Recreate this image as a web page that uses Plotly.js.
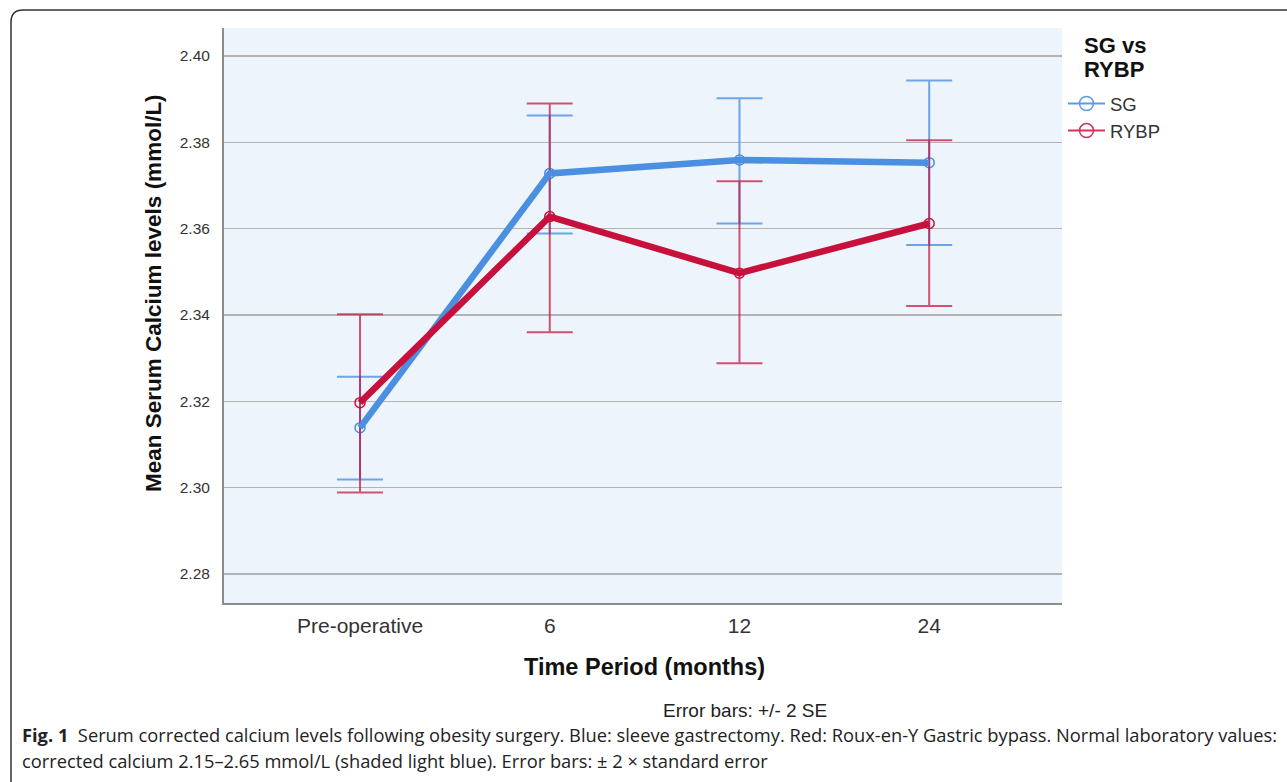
<!DOCTYPE html>
<html>
<head>
<meta charset="utf-8">
<script src="https://cdn.plot.ly/plotly-3.0.1.min.js"></script>
<style>
html,body{margin:0;padding:0;background:#fff;}
#chart{width:1287px;height:782px;}
</style>
</head>
<body>
<div id="chart"></div>
<script>
// ---- data ----
var periods = ['Pre-operative', '6', '12', '24'];
var sgMean  = [2.3139, 2.3728, 2.3759, 2.3753];
var sgUpper = [2.3257, 2.3862, 2.3902, 2.3943];
var sgLower = [2.3019, 2.3589, 2.3612, 2.3562];
var rybpMean  = [2.3197, 2.3628, 2.3497, 2.3612];
var rybpUpper = [2.3402, 2.3890, 2.3710, 2.3805];
var rybpLower = [2.2989, 2.3360, 2.3288, 2.3421];
var seriesNames = ['SG', 'RYBP'];
var yTicks = [2.28, 2.30, 2.32, 2.34, 2.36, 2.38, 2.40];

var BLUE = '#4a8fe0', RED = '#c8103c';
var BLUE_EB = 'rgba(86,150,228,0.85)', RED_EB = 'rgba(200,16,60,0.72)';

// plot area in pixels
var L = 224, R = 1062, T = 28, B = 603;
function px(x){ return (x - L) / (R - L); }
function py(y){ return (B - y) / (B - T); }

function diff(a, b){ return a.map(function(v, i){ return v - b[i]; }); }

var traces = [
  { x: periods, y: sgMean, type: 'scatter', mode: 'markers', showlegend: false, hoverinfo: 'skip',
    marker: { symbol: 'circle-open', size: 10, color: BLUE, line: { width: 1.5, color: BLUE } },
    error_y: { type: 'data', symmetric: false, array: diff(sgUpper, sgMean), arrayminus: diff(sgMean, sgLower),
               color: BLUE_EB, thickness: 2, width: 23 } },
  { x: periods, y: rybpMean, type: 'scatter', mode: 'markers', showlegend: false, hoverinfo: 'skip',
    marker: { symbol: 'circle-open', size: 10, color: RED, line: { width: 1.5, color: RED } },
    error_y: { type: 'data', symmetric: false, array: diff(rybpUpper, rybpMean), arrayminus: diff(rybpMean, rybpLower),
               color: RED_EB, thickness: 2, width: 23 } },
  { x: periods, y: sgMean, type: 'scatter', mode: 'lines', showlegend: false,
    line: { color: BLUE, width: 6.5 } },
  { x: periods, y: rybpMean, type: 'scatter', mode: 'lines', showlegend: false,
    line: { color: RED, width: 6.5 } },
  { x: [null], y: [null], type: 'scatter', mode: 'lines+markers', name: seriesNames[0],
    line: { color: '#5a9ae6', width: 2 }, marker: { symbol: 'circle-open', size: 14, color: '#5a9ae6', line: { width: 1.5 } } },
  { x: [null], y: [null], type: 'scatter', mode: 'lines+markers', name: seriesNames[1],
    line: { color: '#d3335e', width: 2 }, marker: { symbol: 'circle-open', size: 14, color: '#d3335e', line: { width: 1.5 } } }
];

var FONT = 'Liberation Sans, Arial, sans-serif';
var CAPFONT = 'Open Sans, sans-serif';

var layout = {
  width: 1287, height: 782,
  margin: { l: L, r: 1287 - R, t: T, b: 782 - B, pad: 0 },
  paper_bgcolor: '#ffffff',
  plot_bgcolor: '#eef4fb',
  font: { family: FONT, color: '#333' },
  showlegend: true,
  legend: {
    x: px(1063), xanchor: 'left', y: py(85), yanchor: 'top',
    bgcolor: 'rgba(0,0,0,0)', font: { size: 18.5, color: '#333', family: FONT },
    itemwidth: 37, tracegroupgap: 0
  },
  xaxis: {
    type: 'category', range: [-0.717, 3.70], showgrid: false, zeroline: false,
    showline: true, linecolor: '#8c8c8c', linewidth: 2, ticks: '',
    tickfont: { size: 21, color: '#333', family: FONT }, ticklabelstandoff: 3
  },
  yaxis: {
    range: [2.27328, 2.40649], tickvals: yTicks, tickformat: '.2f',
    showgrid: true, gridcolor: '#b3b3b3', gridwidth: 1.5, zeroline: false,
    showline: true, linecolor: '#8c8c8c', linewidth: 2, ticks: '',
    tickfont: { size: 15.5, color: '#333', family: FONT }, ticklabelstandoff: 9
  },
  annotations: [
    { text: '<b>Mean Serum Calcium levels (mmol/L)</b>', textangle: -90, xref: 'paper', yref: 'paper',
      x: px(153), y: py(293), xanchor: 'center', yanchor: 'middle', showarrow: false,
      font: { size: 22.5, color: '#111', family: FONT } },
    { text: '<b>Time Period (months)</b>', xref: 'paper', yref: 'paper',
      x: px(644), y: py(667), xanchor: 'center', yanchor: 'middle', showarrow: false,
      font: { size: 23.5, color: '#111', family: FONT } },
    { text: 'Error bars: +/- 2 SE', xref: 'paper', yref: 'paper',
      x: px(744.5), y: py(710), xanchor: 'center', yanchor: 'middle', showarrow: false,
      font: { size: 19, color: '#222', family: FONT } },
    { text: '<b>SG vs</b>', xref: 'paper', yref: 'paper', align: 'left',
      x: px(1082), y: py(45), xanchor: 'left', yanchor: 'middle', showarrow: false,
      font: { size: 22, color: '#111', family: FONT } },
    { text: '<b>RYBP</b>', xref: 'paper', yref: 'paper', align: 'left',
      x: px(1082), y: py(70), xanchor: 'left', yanchor: 'middle', showarrow: false,
      font: { size: 22, color: '#111', family: FONT } },
    { text: '<b>Fig. 1</b>  Serum corrected calcium levels following obesity surgery. Blue: sleeve gastrectomy. Red: Roux-en-Y Gastric bypass. Normal laboratory values:',
      xref: 'paper', yref: 'paper', align: 'left',
      x: px(20), y: py(734), xanchor: 'left', yanchor: 'middle', showarrow: false,
      font: { size: 18.3, color: '#222', family: CAPFONT } },
    { text: 'corrected calcium 2.15–2.65 mmol/L (shaded light blue). Error bars: ± 2 × standard error',
      xref: 'paper', yref: 'paper', align: 'left',
      x: px(20), y: py(760), xanchor: 'left', yanchor: 'middle', showarrow: false,
      font: { size: 18.3, color: '#222', family: CAPFONT } }
  ],
  shapes: [
    { type: 'path', xref: 'paper', yref: 'paper',
      path: 'M ' + px(11) + ',' + py(800) + ' L ' + px(11) + ',' + py(22) +
            ' Q ' + px(11) + ',' + py(10) + ' ' + px(23) + ',' + py(10) +
            ' L ' + px(1300) + ',' + py(10),
      line: { color: '#333', width: 1.5 } }
  ]
};

Plotly.newPlot('chart', traces, layout, { displayModeBar: false, staticPlot: true });
</script>
</body>
</html>
